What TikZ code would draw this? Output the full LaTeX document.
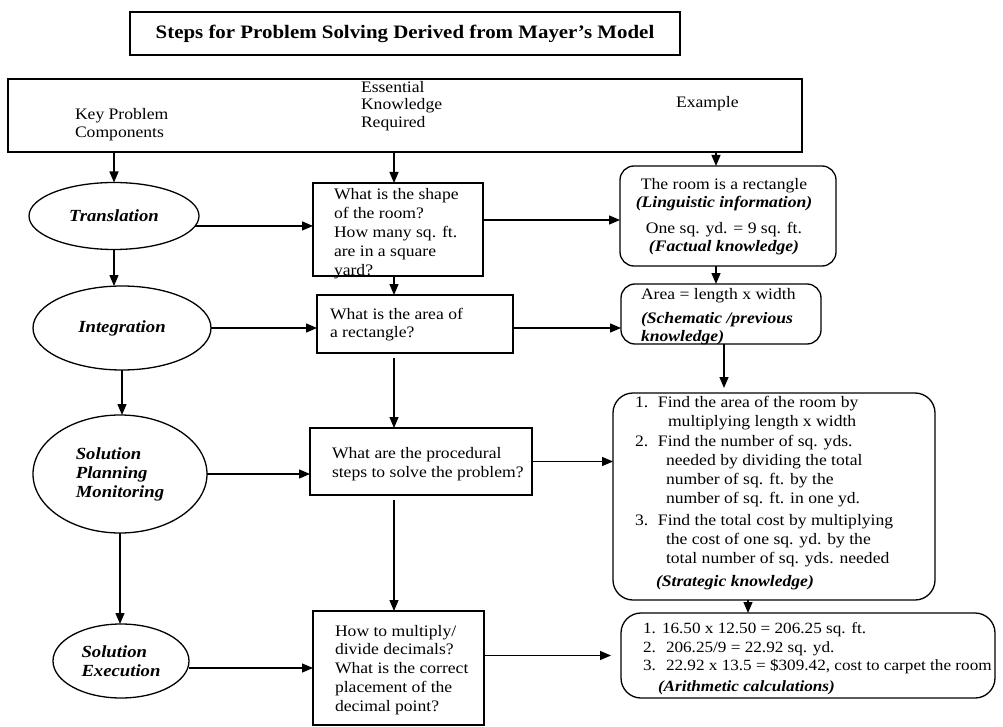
\documentclass[tikz,border=0pt]{standalone}
\usepackage{fontspec}
\setmainfont{Liberation Serif}[FakeStretch=1.1]
\usetikzlibrary{shapes.geometric,arrows.meta}

\begin{document}
\begin{tikzpicture}[x=1pt,y=-1pt,
  every node/.style={inner sep=0pt, outer sep=0pt},
  frame/.style={draw, line width=1.3pt, anchor=north west},
  roundframe/.style={frame, rounded corners=14pt},
  oval/.style={draw, line width=1.3pt, ellipse, align=left,
    font=\fontsize{17}{19}\selectfont\bfseries\itshape},
  txt/.style={anchor=north west, align=left, font=\fontsize{16}{19}\selectfont},
  arr/.style={-{Triangle[length=11pt,width=9pt]}, line width=1.3pt}
]
\useasboundingbox (0,0) rectangle (1003,727);

% column guides for the vertical connectors
\coordinate (c2) at (394,0);
\coordinate (c3) at (716,0);
\coordinate (c4) at (724,0);
\coordinate (c5) at (748,0);

% title
\node[frame, minimum width=550pt, minimum height=43pt,
  font=\fontsize{19}{22}\selectfont\bfseries] (title) at (130,12)
  {Steps for Problem Solving Derived from Mayer's Model};

% column headings
\node[frame, minimum width=794pt, minimum height=73pt] (hdr) at (8,79) {};
\node[txt, font=\fontsize{16}{18}\selectfont] (hkey) at (75,108) {Key Problem\\Components};
\node[txt, font=\fontsize{16}{17.5}\selectfont] (hess) at (361,81) {Essential\\Knowledge\\Required};
\node[txt] (hex) at (676,96) {Example};

% key problem components
\node[oval, minimum width=170pt, minimum height=67pt] (tr) at (114,216) {Translation};
\node[oval, minimum width=178pt, minimum height=84pt] (ig) at (122,328) {Integration};
\node[oval, minimum width=174pt, minimum height=118pt] (spm) at (120,474) {Solution\\Planning\\Monitoring};
\node[oval, minimum width=136pt, minimum height=74pt] (se) at (121,661) {Solution\\Execution};

% essential knowledge
\node[frame, minimum width=170pt, minimum height=93pt] (b1) at (313,183) {};
\node[txt] (t1) at (334,188) {What is the shape\\of the room?\\How many sq. ft.\\are in a square\\yard?};
\node[frame, minimum width=196pt, minimum height=58pt] (b2) at (317,295) {};
\node[txt, font=\fontsize{16}{18}\selectfont] (t2) at (330,308) {What is the area of\\a rectangle?};
\node[frame, minimum width=222pt, minimum height=67pt] (b3) at (310,428) {};
\node[txt] (t3) at (332,447) {What are the procedural\\steps to solve the problem?};
\node[frame, minimum width=171pt, minimum height=114pt] (b4) at (313,611) {};
\node[txt, font=\fontsize{16}{18.75}\selectfont] (t4) at (335,625)
  {How to multiply/\\divide decimals?\\What is the correct\\placement of the\\decimal point?};

% examples
\node[roundframe, minimum width=216pt, minimum height=100pt] (ex1) at (620,166) {};
\node[txt, anchor=north, align=center, font=\fontsize{16}{18}\selectfont] (te1) at (724,178)
  {The room is a rectangle\\{\bfseries\itshape (Linguistic information)}\\[8pt]%
   One sq. yd. = 9 sq. ft.\\{\bfseries\itshape (Factual knowledge)}};

\node[roundframe, minimum width=200pt, minimum height=60pt] (ex2) at (621,284) {};
\node[txt, font=\fontsize{16}{18}\selectfont] (te2) at (641,288)
  {Area = length x width\\[6pt]{\bfseries\itshape (Schematic /previous}\\{\bfseries\itshape knowledge)}};

\node[roundframe, rounded corners=20pt, minimum width=322pt, minimum height=207pt] (ex3) at (613,393) {};
\node[txt] (te3) at (635,396)
  {\makebox[23pt][l]{1.}Find the area of the room by\\
   \hspace*{33pt}multiplying length x width\\[1pt]
   \makebox[23pt][l]{2.}Find the number of sq. yds.\\
   \hspace*{31pt}needed by dividing the total\\
   \hspace*{31pt}number of sq. ft. by the\\
   \hspace*{31pt}number of sq. ft. in one yd.\\[3pt]
   \makebox[23pt][l]{3.}Find the total cost by multiplying\\
   \hspace*{31pt}the cost of one sq. yd. by the\\
   \hspace*{31pt}total number of sq. yds. needed\\[4pt]
   \hspace*{21pt}{\bfseries\itshape (Strategic knowledge)}};

\node[roundframe, rounded corners=20pt, minimum width=374pt, minimum height=85pt] (ex4) at (621,613) {};
\node[txt, font=\fontsize{15.6}{18.5}\selectfont] (te4) at (643,623)
  {\makebox[19pt][l]{1.}16.50 x 12.50 = 206.25 sq. ft.\\
   \makebox[23pt][l]{2.}206.25/9 = 22.92 sq. yd.\\
   \makebox[23pt][l]{3.}22.92 x 13.5 = \$309.42, cost to carpet the room\\[2pt]
   \hspace*{15pt}{\bfseries\itshape (Arithmetic calculations)}};

% connectors from the headings
\draw[arr] (hdr.south -| tr.north) -- (tr.north);
\draw[arr] (hdr.south -| c2) -- (b1.north -| c2);
\draw[arr] (hdr.south -| c3) -- (ex1.north -| c3);

% across the rows
\draw[arr] (tr.-7) -- (tr.-7 -| b1.west);
\draw[arr] ([yshift=9.5pt]b1.east) -- ([yshift=9.5pt]b1.east -| ex1.west);
\draw[arr] (ig.east) -- (ig.east -| b2.west);
\draw[arr] ([yshift=-4pt]b2.east) -- ([yshift=-4pt]b2.east -| ex2.west);
\draw[arr] (spm.east) -- (spm.east -| b3.west);
\draw[arr] (b3.east) -- (b3.east -| ex3.west);
\draw[arr] (b4.west -| se.east) -- (b4.west);
\draw[arr, shorten >=10pt] (ex4.west -| b4.east) -- (ex4.west);

% down the columns
\draw[arr] (tr.south) -- (tr.south |- ig.north);
\draw[arr] (ig.south) -- (ig.south |- spm.north);
\draw[arr] (spm.south) -- (spm.south |- se.north);
\draw[arr] (b1.south -| c2) -- (b2.north -| c2);
\draw[arr, shorten <=5pt] (b2.south -| c2) -- (b3.north -| c2);
\draw[arr, shorten <=5pt] (b3.south -| c2) -- (b4.north -| c2);
\draw[arr] (ex1.south -| c3) -- (ex2.north -| c3);
\draw[arr, shorten >=5pt] (ex2.south -| c4) -- (ex3.north -| c4);
\draw[arr] (ex3.south -| c5) -- (ex4.north -| c5);
\end{tikzpicture}
\end{document}
